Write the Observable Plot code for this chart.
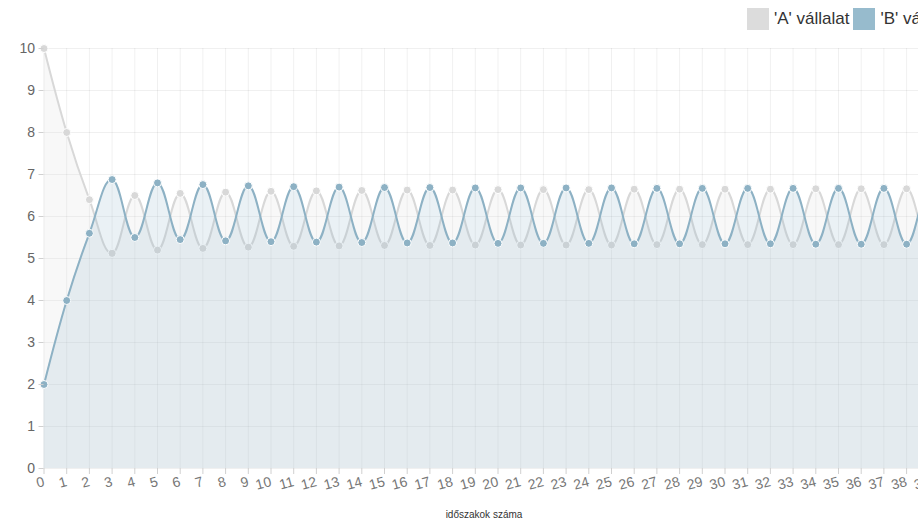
<!DOCTYPE html>
<html>
<head>
<meta charset="utf-8">
<script src="https://cdn.jsdelivr.net/npm/d3@7"></script>
<script src="https://cdn.jsdelivr.net/npm/@observablehq/plot@0.6"></script>
<style>
  html, body { margin: 0; padding: 0; background: #fff; overflow: hidden; }
  #wrap { position: relative; width: 918px; height: 527px; overflow: hidden; font-family: "Liberation Sans", Arial, sans-serif; }
  #chart { position: absolute; left: 0; top: 0; width: 960px; }
  #chart svg { max-width: none !important; }
  .legend { position: absolute; top: 8px; left: 747px; white-space: nowrap; display: flex; align-items: center; font-size: 17px; color: #333; }
  .sw { display: inline-block; width: 22px; height: 22px; margin-right: 5px; }
  .item { display: flex; align-items: center; margin-right: 4px; }
  .xtitle { position: absolute; top: 509px; left: 384px; width: 200px; text-align: center; font-size: 10px; color: #333; }
</style>
</head>
<body>
<div id="wrap">
  <div id="chart"></div>
  <div class="legend">
    <div class="item"><span class="sw" style="background:#dcdcdc"></span><span>'A' vállalat</span></div>
    <div class="item"><span class="sw" style="background:#97bbcd"></span><span>'B' vállalat</span></div>
  </div>
  <div class="xtitle">időszakok száma</div>
</div>
<script>
// x categories (periods)
const periods = [0,1,2,3,4,5,6,7,8,9,10,11,12,13,14,15,16,17,18,19,20,21,22,23,24,25,26,27,28,29,30,31,32,33,34,35,36,37,38,39,40];
// y tick labels
const yTicks = [0,1,2,3,4,5,6,7,8,9,10];
// series values
const seriesA = [10, 8, 6.4, 5.12, 6.5, 5.2, 6.55, 5.24, 6.58, 5.27, 6.6, 5.29, 6.61, 5.3, 6.62, 5.31, 6.63, 5.31, 6.63, 5.32, 6.64, 5.32, 6.64, 5.32, 6.64, 5.32, 6.65, 5.33, 6.65, 5.33, 6.65, 5.33, 6.65, 5.33, 6.66, 5.33, 6.66, 5.33, 6.66, 5.33, 6.66];
const seriesB = [2, 4, 5.6, 6.88, 5.5, 6.8, 5.45, 6.76, 5.42, 6.73, 5.4, 6.71, 5.39, 6.7, 5.38, 6.69, 5.37, 6.69, 5.37, 6.68, 5.36, 6.68, 5.36, 6.68, 5.36, 6.68, 5.35, 6.67, 5.35, 6.67, 5.35, 6.67, 5.35, 6.67, 5.34, 6.67, 5.34, 6.67, 5.34, 6.67, 5.34];

const dataA = periods.map((p, i) => ({x: p, y: seriesA[i]}));
const dataB = periods.map((p, i) => ({x: p, y: seriesB[i]}));

const curveOpts = {curve: "cardinal", tension: -0.2};

const chart = Plot.plot({
  width: 960,
  height: 527,
  marginLeft: 43.5,
  marginRight: 8.5,
  marginTop: 48,
  marginBottom: 59,
  x: {domain: [0, 40]},
  y: {domain: [0, 10]},
  style: {fontFamily: "'Liberation Sans', Arial, sans-serif", fontSize: "14px", background: "transparent", overflow: "visible", maxWidth: "none"},
  marks: [
    Plot.gridX(periods, {stroke: "#000", strokeOpacity: 0.06, strokeWidth: 1}),
    Plot.gridY(yTicks, {stroke: "#000", strokeOpacity: 0.06, strokeWidth: 1}),
    Plot.areaY(dataA, {x: "x", y: "y", fill: "rgba(220,220,220,0.2)", ...curveOpts}),
    Plot.lineY(dataA, {x: "x", y: "y", stroke: "#d8d8d8", strokeWidth: 2, ...curveOpts}),
    Plot.dot(dataA, {x: "x", y: "y", r: 4, fill: "#d8d8d8", stroke: "#fff", strokeWidth: 1}),
    Plot.areaY(dataB, {x: "x", y: "y", fill: "rgba(151,187,205,0.2)", ...curveOpts}),
    Plot.lineY(dataB, {x: "x", y: "y", stroke: "#8db1c4", strokeWidth: 2, ...curveOpts}),
    Plot.dot(dataB, {x: "x", y: "y", r: 4, fill: "#8db1c4", stroke: "#fff", strokeWidth: 1}),
    Plot.axisX(periods, {tickSize: 6, tickPadding: 7, tickRotate: -15, fontSize: 14, stroke: "#d0d0d0", fill: "#777", label: null}),
    Plot.axisY(yTicks, {tickSize: 5, tickPadding: 4, fontSize: 14, stroke: "#d0d0d0", fill: "#666", label: null})
  ]
});
document.getElementById("chart").appendChild(chart);
</script>
</body>
</html>
